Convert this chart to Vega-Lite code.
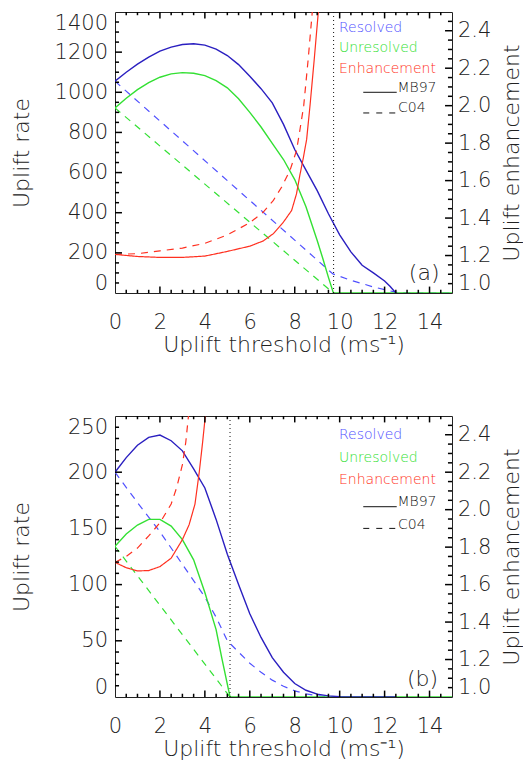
{
  "$schema": "https://vega.github.io/schema/vega-lite/v6.json",
  "description": "Uplift rate and enhancement versus uplift threshold, panels (a) and (b)",
  "padding": {"left": 10, "top": 10, "right": 0, "bottom": 0},
  "spacing": 58,
  "datasets": {
    "rate": [
      {"p": "a", "s": "Unresolved", "m": "MB97", "x": 0, "y": 922}, {"p": "a", "s": "Unresolved", "m": "MB97", "x": 0.5, "y": 970},
      {"p": "a", "s": "Unresolved", "m": "MB97", "x": 1, "y": 1013}, {"p": "a", "s": "Unresolved", "m": "MB97", "x": 1.5, "y": 1048},
      {"p": "a", "s": "Unresolved", "m": "MB97", "x": 2, "y": 1075}, {"p": "a", "s": "Unresolved", "m": "MB97", "x": 2.5, "y": 1092},
      {"p": "a", "s": "Unresolved", "m": "MB97", "x": 3, "y": 1098}, {"p": "a", "s": "Unresolved", "m": "MB97", "x": 3.5, "y": 1095},
      {"p": "a", "s": "Unresolved", "m": "MB97", "x": 4, "y": 1083}, {"p": "a", "s": "Unresolved", "m": "MB97", "x": 4.5, "y": 1058},
      {"p": "a", "s": "Unresolved", "m": "MB97", "x": 5, "y": 1022}, {"p": "a", "s": "Unresolved", "m": "MB97", "x": 5.5, "y": 968},
      {"p": "a", "s": "Unresolved", "m": "MB97", "x": 6, "y": 900}, {"p": "a", "s": "Unresolved", "m": "MB97", "x": 6.5, "y": 827},
      {"p": "a", "s": "Unresolved", "m": "MB97", "x": 7, "y": 745}, {"p": "a", "s": "Unresolved", "m": "MB97", "x": 7.5, "y": 665},
      {"p": "a", "s": "Unresolved", "m": "MB97", "x": 8, "y": 565}, {"p": "a", "s": "Unresolved", "m": "MB97", "x": 8.5, "y": 430},
      {"p": "a", "s": "Unresolved", "m": "MB97", "x": 9, "y": 262}, {"p": "a", "s": "Unresolved", "m": "MB97", "x": 9.25, "y": 172},
      {"p": "a", "s": "Unresolved", "m": "MB97", "x": 9.5, "y": 78}, {"p": "a", "s": "Unresolved", "m": "MB97", "x": 9.72, "y": 0},
      {"p": "a", "s": "Unresolved", "m": "MB97", "x": 15, "y": 0},
      {"p": "a", "s": "Resolved", "m": "MB97", "x": 0, "y": 1055}, {"p": "a", "s": "Resolved", "m": "MB97", "x": 0.5, "y": 1100},
      {"p": "a", "s": "Resolved", "m": "MB97", "x": 1, "y": 1140}, {"p": "a", "s": "Resolved", "m": "MB97", "x": 1.5, "y": 1175},
      {"p": "a", "s": "Resolved", "m": "MB97", "x": 2, "y": 1205}, {"p": "a", "s": "Resolved", "m": "MB97", "x": 2.5, "y": 1225},
      {"p": "a", "s": "Resolved", "m": "MB97", "x": 3, "y": 1238}, {"p": "a", "s": "Resolved", "m": "MB97", "x": 3.5, "y": 1242},
      {"p": "a", "s": "Resolved", "m": "MB97", "x": 4, "y": 1235}, {"p": "a", "s": "Resolved", "m": "MB97", "x": 4.5, "y": 1215},
      {"p": "a", "s": "Resolved", "m": "MB97", "x": 5, "y": 1183}, {"p": "a", "s": "Resolved", "m": "MB97", "x": 5.5, "y": 1138},
      {"p": "a", "s": "Resolved", "m": "MB97", "x": 6, "y": 1080}, {"p": "a", "s": "Resolved", "m": "MB97", "x": 6.5, "y": 1018},
      {"p": "a", "s": "Resolved", "m": "MB97", "x": 7, "y": 947}, {"p": "a", "s": "Resolved", "m": "MB97", "x": 7.5, "y": 840},
      {"p": "a", "s": "Resolved", "m": "MB97", "x": 8, "y": 715}, {"p": "a", "s": "Resolved", "m": "MB97", "x": 8.5, "y": 612},
      {"p": "a", "s": "Resolved", "m": "MB97", "x": 9, "y": 510}, {"p": "a", "s": "Resolved", "m": "MB97", "x": 9.5, "y": 395},
      {"p": "a", "s": "Resolved", "m": "MB97", "x": 10, "y": 290}, {"p": "a", "s": "Resolved", "m": "MB97", "x": 10.5, "y": 205},
      {"p": "a", "s": "Resolved", "m": "MB97", "x": 11, "y": 138}, {"p": "a", "s": "Resolved", "m": "MB97", "x": 11.5, "y": 100},
      {"p": "a", "s": "Resolved", "m": "MB97", "x": 12, "y": 60}, {"p": "a", "s": "Resolved", "m": "MB97", "x": 12.25, "y": 32},
      {"p": "a", "s": "Resolved", "m": "MB97", "x": 12.5, "y": 0},
      {"p": "a", "s": "Unresolved", "m": "C04", "x": 0, "y": 922}, {"p": "a", "s": "Unresolved", "m": "C04", "x": 9.72, "y": 0},
      {"p": "a", "s": "Resolved", "m": "C04", "x": 0, "y": 1055}, {"p": "a", "s": "Resolved", "m": "C04", "x": 9.7, "y": 95},
      {"p": "a", "s": "Resolved", "m": "C04", "x": 10.5, "y": 63}, {"p": "a", "s": "Resolved", "m": "C04", "x": 11, "y": 47},
      {"p": "a", "s": "Resolved", "m": "C04", "x": 11.5, "y": 30}, {"p": "a", "s": "Resolved", "m": "C04", "x": 12, "y": 17},
      {"p": "a", "s": "Resolved", "m": "C04", "x": 12.5, "y": 4}, {"p": "a", "s": "Resolved", "m": "C04", "x": 13, "y": 0},
      {"p": "a", "s": "Resolved", "m": "C04", "x": 15, "y": 0},

      {"p": "b", "s": "Unresolved", "m": "MB97", "x": 0, "y": 134}, {"p": "b", "s": "Unresolved", "m": "MB97", "x": 0.5, "y": 145},
      {"p": "b", "s": "Unresolved", "m": "MB97", "x": 1, "y": 153}, {"p": "b", "s": "Unresolved", "m": "MB97", "x": 1.5, "y": 158},
      {"p": "b", "s": "Unresolved", "m": "MB97", "x": 2, "y": 158}, {"p": "b", "s": "Unresolved", "m": "MB97", "x": 2.5, "y": 152},
      {"p": "b", "s": "Unresolved", "m": "MB97", "x": 3, "y": 140}, {"p": "b", "s": "Unresolved", "m": "MB97", "x": 3.5, "y": 122},
      {"p": "b", "s": "Unresolved", "m": "MB97", "x": 4, "y": 93}, {"p": "b", "s": "Unresolved", "m": "MB97", "x": 4.5, "y": 60},
      {"p": "b", "s": "Unresolved", "m": "MB97", "x": 4.75, "y": 35}, {"p": "b", "s": "Unresolved", "m": "MB97", "x": 5.12, "y": 0},
      {"p": "b", "s": "Unresolved", "m": "MB97", "x": 15, "y": 0},
      {"p": "b", "s": "Resolved", "m": "MB97", "x": 0, "y": 200}, {"p": "b", "s": "Resolved", "m": "MB97", "x": 0.5, "y": 213},
      {"p": "b", "s": "Resolved", "m": "MB97", "x": 1, "y": 224}, {"p": "b", "s": "Resolved", "m": "MB97", "x": 1.5, "y": 231},
      {"p": "b", "s": "Resolved", "m": "MB97", "x": 2, "y": 233}, {"p": "b", "s": "Resolved", "m": "MB97", "x": 2.5, "y": 228},
      {"p": "b", "s": "Resolved", "m": "MB97", "x": 3, "y": 219}, {"p": "b", "s": "Resolved", "m": "MB97", "x": 3.5, "y": 203},
      {"p": "b", "s": "Resolved", "m": "MB97", "x": 4, "y": 186}, {"p": "b", "s": "Resolved", "m": "MB97", "x": 4.5, "y": 158},
      {"p": "b", "s": "Resolved", "m": "MB97", "x": 5, "y": 127}, {"p": "b", "s": "Resolved", "m": "MB97", "x": 5.5, "y": 100},
      {"p": "b", "s": "Resolved", "m": "MB97", "x": 6, "y": 74}, {"p": "b", "s": "Resolved", "m": "MB97", "x": 6.5, "y": 53},
      {"p": "b", "s": "Resolved", "m": "MB97", "x": 7, "y": 35}, {"p": "b", "s": "Resolved", "m": "MB97", "x": 7.5, "y": 22},
      {"p": "b", "s": "Resolved", "m": "MB97", "x": 8, "y": 12}, {"p": "b", "s": "Resolved", "m": "MB97", "x": 8.5, "y": 6},
      {"p": "b", "s": "Resolved", "m": "MB97", "x": 9, "y": 2.5}, {"p": "b", "s": "Resolved", "m": "MB97", "x": 9.5, "y": 1},
      {"p": "b", "s": "Resolved", "m": "MB97", "x": 10, "y": 0.3}, {"p": "b", "s": "Resolved", "m": "MB97", "x": 10.5, "y": 0},
      {"p": "b", "s": "Resolved", "m": "MB97", "x": 12.5, "y": 0},
      {"p": "b", "s": "Unresolved", "m": "C04", "x": 0, "y": 134}, {"p": "b", "s": "Unresolved", "m": "C04", "x": 5.12, "y": 0},
      {"p": "b", "s": "Resolved", "m": "C04", "x": 0, "y": 200}, {"p": "b", "s": "Resolved", "m": "C04", "x": 1, "y": 173},
      {"p": "b", "s": "Resolved", "m": "C04", "x": 2, "y": 147}, {"p": "b", "s": "Resolved", "m": "C04", "x": 3, "y": 118},
      {"p": "b", "s": "Resolved", "m": "C04", "x": 4, "y": 89}, {"p": "b", "s": "Resolved", "m": "C04", "x": 4.5, "y": 71},
      {"p": "b", "s": "Resolved", "m": "C04", "x": 5, "y": 50}, {"p": "b", "s": "Resolved", "m": "C04", "x": 5.5, "y": 40},
      {"p": "b", "s": "Resolved", "m": "C04", "x": 6, "y": 30}, {"p": "b", "s": "Resolved", "m": "C04", "x": 6.5, "y": 22},
      {"p": "b", "s": "Resolved", "m": "C04", "x": 7, "y": 15}, {"p": "b", "s": "Resolved", "m": "C04", "x": 7.5, "y": 9.5},
      {"p": "b", "s": "Resolved", "m": "C04", "x": 8, "y": 5.5}, {"p": "b", "s": "Resolved", "m": "C04", "x": 8.5, "y": 2.8},
      {"p": "b", "s": "Resolved", "m": "C04", "x": 9, "y": 1.2}, {"p": "b", "s": "Resolved", "m": "C04", "x": 9.5, "y": 0.3},
      {"p": "b", "s": "Resolved", "m": "C04", "x": 10, "y": 0}
    ],
    "enh": [
      {"p": "a", "m": "MB97", "x": 0, "e": 1.206}, {"p": "a", "m": "MB97", "x": 1, "e": 1.195}, {"p": "a", "m": "MB97", "x": 2, "e": 1.19},
      {"p": "a", "m": "MB97", "x": 3, "e": 1.19}, {"p": "a", "m": "MB97", "x": 4, "e": 1.197}, {"p": "a", "m": "MB97", "x": 5, "e": 1.222},
      {"p": "a", "m": "MB97", "x": 6, "e": 1.25}, {"p": "a", "m": "MB97", "x": 6.6, "e": 1.278}, {"p": "a", "m": "MB97", "x": 7.05, "e": 1.317},
      {"p": "a", "m": "MB97", "x": 7.5, "e": 1.379}, {"p": "a", "m": "MB97", "x": 7.86, "e": 1.44}, {"p": "a", "m": "MB97", "x": 8.08, "e": 1.53},
      {"p": "a", "m": "MB97", "x": 8.23, "e": 1.63}, {"p": "a", "m": "MB97", "x": 8.38, "e": 1.72}, {"p": "a", "m": "MB97", "x": 8.53, "e": 1.82},
      {"p": "a", "m": "MB97", "x": 8.68, "e": 2.0}, {"p": "a", "m": "MB97", "x": 8.87, "e": 2.25}, {"p": "a", "m": "MB97", "x": 9.05, "e": 2.5},
      {"p": "a", "m": "C04", "x": 0, "e": 1.206}, {"p": "a", "m": "C04", "x": 1, "e": 1.21}, {"p": "a", "m": "C04", "x": 2, "e": 1.225},
      {"p": "a", "m": "C04", "x": 3, "e": 1.24}, {"p": "a", "m": "C04", "x": 4, "e": 1.265}, {"p": "a", "m": "C04", "x": 5, "e": 1.31},
      {"p": "a", "m": "C04", "x": 6, "e": 1.375}, {"p": "a", "m": "C04", "x": 6.6, "e": 1.432}, {"p": "a", "m": "C04", "x": 7.05, "e": 1.495},
      {"p": "a", "m": "C04", "x": 7.42, "e": 1.566}, {"p": "a", "m": "C04", "x": 7.79, "e": 1.655}, {"p": "a", "m": "C04", "x": 8.08, "e": 1.76},
      {"p": "a", "m": "C04", "x": 8.23, "e": 1.87}, {"p": "a", "m": "C04", "x": 8.4, "e": 2.0}, {"p": "a", "m": "C04", "x": 8.6, "e": 2.25},
      {"p": "a", "m": "C04", "x": 8.78, "e": 2.5},
      {"p": "b", "m": "MB97", "x": 0, "e": 1.719}, {"p": "b", "m": "MB97", "x": 0.5, "e": 1.69}, {"p": "b", "m": "MB97", "x": 1, "e": 1.673},
      {"p": "b", "m": "MB97", "x": 1.5, "e": 1.675}, {"p": "b", "m": "MB97", "x": 2, "e": 1.696}, {"p": "b", "m": "MB97", "x": 2.5, "e": 1.741},
      {"p": "b", "m": "MB97", "x": 3, "e": 1.84}, {"p": "b", "m": "MB97", "x": 3.3, "e": 1.92}, {"p": "b", "m": "MB97", "x": 3.56, "e": 2.03},
      {"p": "b", "m": "MB97", "x": 3.75, "e": 2.2}, {"p": "b", "m": "MB97", "x": 3.9, "e": 2.36}, {"p": "b", "m": "MB97", "x": 4.02, "e": 2.5},
      {"p": "b", "m": "C04", "x": 0, "e": 1.719}, {"p": "b", "m": "C04", "x": 0.5, "e": 1.75}, {"p": "b", "m": "C04", "x": 1, "e": 1.795},
      {"p": "b", "m": "C04", "x": 1.5, "e": 1.86}, {"p": "b", "m": "C04", "x": 2, "e": 1.93}, {"p": "b", "m": "C04", "x": 2.5, "e": 2.03},
      {"p": "b", "m": "C04", "x": 2.75, "e": 2.12}, {"p": "b", "m": "C04", "x": 3, "e": 2.24}, {"p": "b", "m": "C04", "x": 3.15, "e": 2.36},
      {"p": "b", "m": "C04", "x": 3.27, "e": 2.5}
    ],
    "xt": [
      {"v": 2, "k": "major"}, {"v": 4, "k": "major"}, {"v": 6, "k": "major"}, {"v": 8, "k": "major"}, {"v": 10, "k": "major"}, {"v": 12, "k": "major"}, {"v": 14, "k": "major"},
      {"v": 0.5, "k": "minor"}, {"v": 1, "k": "minor"}, {"v": 1.5, "k": "minor"}, {"v": 2.5, "k": "minor"}, {"v": 3, "k": "minor"}, {"v": 3.5, "k": "minor"},
      {"v": 4.5, "k": "minor"}, {"v": 5, "k": "minor"}, {"v": 5.5, "k": "minor"}, {"v": 6.5, "k": "minor"}, {"v": 7, "k": "minor"}, {"v": 7.5, "k": "minor"},
      {"v": 8.5, "k": "minor"}, {"v": 9, "k": "minor"}, {"v": 9.5, "k": "minor"}, {"v": 10.5, "k": "minor"}, {"v": 11, "k": "minor"}, {"v": 11.5, "k": "minor"},
      {"v": 12.5, "k": "minor"}, {"v": 13, "k": "minor"}, {"v": 13.5, "k": "minor"}, {"v": 14.5, "k": "minor"}
    ],
    "yta": [
      {"v": 200, "k": "major"}, {"v": 400, "k": "major"}, {"v": 600, "k": "major"}, {"v": 800, "k": "major"}, {"v": 1000, "k": "major"}, {"v": 1200, "k": "major"},
      {"v": 50, "k": "minor"}, {"v": 100, "k": "minor"}, {"v": 150, "k": "minor"}, {"v": 250, "k": "minor"}, {"v": 300, "k": "minor"}, {"v": 350, "k": "minor"},
      {"v": 450, "k": "minor"}, {"v": 500, "k": "minor"}, {"v": 550, "k": "minor"}, {"v": 650, "k": "minor"}, {"v": 700, "k": "minor"}, {"v": 750, "k": "minor"},
      {"v": 850, "k": "minor"}, {"v": 900, "k": "minor"}, {"v": 950, "k": "minor"}, {"v": 1050, "k": "minor"}, {"v": 1100, "k": "minor"}, {"v": 1150, "k": "minor"},
      {"v": 1250, "k": "minor"}, {"v": 1300, "k": "minor"}, {"v": 1350, "k": "minor"}
    ],
    "ytb": [
      {"v": 50, "k": "major"}, {"v": 100, "k": "major"}, {"v": 150, "k": "major"}, {"v": 200, "k": "major"},
      {"v": 10, "k": "minor"}, {"v": 20, "k": "minor"}, {"v": 30, "k": "minor"}, {"v": 40, "k": "minor"},
      {"v": 60, "k": "minor"}, {"v": 70, "k": "minor"}, {"v": 80, "k": "minor"}, {"v": 90, "k": "minor"},
      {"v": 110, "k": "minor"}, {"v": 120, "k": "minor"}, {"v": 130, "k": "minor"}, {"v": 140, "k": "minor"},
      {"v": 160, "k": "minor"}, {"v": 170, "k": "minor"}, {"v": 180, "k": "minor"}, {"v": 190, "k": "minor"},
      {"v": 210, "k": "minor"}, {"v": 220, "k": "minor"}, {"v": 230, "k": "minor"}, {"v": 240, "k": "minor"}
    ],
    "et": [
      {"v": 1.2, "k": "major"}, {"v": 1.4, "k": "major"}, {"v": 1.6, "k": "major"}, {"v": 1.8, "k": "major"}, {"v": 2.0, "k": "major"}, {"v": 2.2, "k": "major"}, {"v": 2.4, "k": "major"},
      {"v": 1.05, "k": "minor"}, {"v": 1.1, "k": "minor"}, {"v": 1.15, "k": "minor"}, {"v": 1.25, "k": "minor"}, {"v": 1.3, "k": "minor"}, {"v": 1.35, "k": "minor"},
      {"v": 1.45, "k": "minor"}, {"v": 1.5, "k": "minor"}, {"v": 1.55, "k": "minor"}, {"v": 1.65, "k": "minor"}, {"v": 1.7, "k": "minor"}, {"v": 1.75, "k": "minor"},
      {"v": 1.85, "k": "minor"}, {"v": 1.9, "k": "minor"}, {"v": 1.95, "k": "minor"}, {"v": 2.05, "k": "minor"}, {"v": 2.1, "k": "minor"}, {"v": 2.15, "k": "minor"},
      {"v": 2.25, "k": "minor"}, {"v": 2.3, "k": "minor"}, {"v": 2.35, "k": "minor"}, {"v": 2.45, "k": "minor"}
    ],
    "one": [{}]
  },
  "vconcat": [
    {
      "width": 337,
      "height": 281,
      "resolve": {"scale": {"y": "independent", "color": "independent"}},
      "layer": [
        {
          "data": {"name": "rate"},
          "transform": [{"filter": "datum.p === 'a' && datum.m === 'C04'"}],
          "mark": {"type": "line", "strokeDash": [7, 6], "strokeWidth": 1.2, "clip": true},
          "encoding": {
            "x": {"field": "x", "type": "quantitative", "scale": {"domain": [0, 15], "nice": false},
              "axis": {"orient": "bottom", "values": [0, 2, 4, 6, 8, 10, 12, 14], "format": "d", "labelPadding": 18, "labelFlush": false,
                "title": "Uplift threshold (ms⁻¹)", "titleX": 168.5, "titleY": 58, "titleBaseline": "alphabetic"}},
            "y": {"field": "y", "type": "quantitative", "scale": {"domain": [0, 1400], "nice": false},
              "axis": {"orient": "left", "values": [0, 200, 400, 600, 800, 1000, 1200, 1400], "format": "d", "labelPadding": 7.5, "labelFlush": true,
                "title": "Uplift rate", "titleX": -86.4, "titleY": 140.5, "titleAngle": 270, "titleBaseline": "alphabetic", "titleAlign": "center"}},
            "color": {"field": "s", "type": "nominal", "scale": {"domain": ["Unresolved", "Resolved"], "range": ["#33e033", "#5050ff"]}, "legend": null}
          }
        },
        {
          "data": {"name": "rate"},
          "transform": [{"filter": "datum.p === 'a' && datum.m === 'MB97'"}],
          "mark": {"type": "line", "strokeWidth": 1.4, "clip": true},
          "encoding": {
            "x": {"field": "x", "type": "quantitative", "scale": {"domain": [0, 15], "nice": false}},
            "y": {"field": "y", "type": "quantitative", "scale": {"domain": [0, 1400], "nice": false}, "axis": null},
            "color": {"field": "s", "type": "nominal", "scale": {"domain": ["Unresolved", "Resolved"], "range": ["#33e033", "#2a1fc0"]}, "legend": null}
          }
        },
        {
          "data": {"name": "enh"},
          "transform": [{"filter": "datum.p === 'a'"}],
          "mark": {"type": "line", "color": "#ff3020", "strokeWidth": 1.2, "clip": true},
          "encoding": {
            "x": {"field": "x", "type": "quantitative", "scale": {"domain": [0, 15], "nice": false}},
            "y": {"field": "e", "type": "quantitative", "scale": {"domain": [1, 2.5], "nice": false, "zero": false},
              "axis": {"orient": "right", "values": [1, 1.2, 1.4, 1.6, 1.8, 2, 2.2, 2.4], "format": ".1f", "labelPadding": 5.5, "labelFlush": true,
                "title": "Uplift enhancement", "titleX": 66, "titleY": 140.5, "titleAngle": 270, "titleBaseline": "alphabetic", "titleAlign": "center"}},
            "strokeDash": {"field": "m", "type": "nominal", "scale": {"domain": ["MB97", "C04"], "range": [[1, 0], [7, 6]]}, "legend": null}
          }
        },
        {
          "data": {"name": "xt"}, "transform": [{"filter": "datum.k === 'major'"}],
          "mark": {"type": "rule", "color": "#000", "strokeWidth": 1.5},
          "encoding": {
            "x": {"field": "v", "type": "quantitative", "scale": {"domain": [0, 15], "nice": false}},
            "y": {"datum": 0, "type": "quantitative", "scale": {"domain": [0, 1400], "nice": false}, "axis": null},
            "y2": {"datum": 32}
          }
        },
        {
          "data": {"name": "xt"}, "transform": [{"filter": "datum.k === 'minor'"}],
          "mark": {"type": "rule", "color": "#000", "strokeWidth": 1.5},
          "encoding": {
            "x": {"field": "v", "type": "quantitative", "scale": {"domain": [0, 15], "nice": false}},
            "y": {"datum": 0, "type": "quantitative", "scale": {"domain": [0, 1400], "nice": false}, "axis": null},
            "y2": {"datum": 16}
          }
        },
        {
          "data": {"name": "xt"}, "transform": [{"filter": "datum.k === 'major'"}],
          "mark": {"type": "rule", "color": "#000", "strokeWidth": 1.5},
          "encoding": {
            "x": {"field": "v", "type": "quantitative", "scale": {"domain": [0, 15], "nice": false}},
            "y": {"datum": 1400, "type": "quantitative", "scale": {"domain": [0, 1400], "nice": false}, "axis": null},
            "y2": {"datum": 1368}
          }
        },
        {
          "data": {"name": "xt"}, "transform": [{"filter": "datum.k === 'minor'"}],
          "mark": {"type": "rule", "color": "#000", "strokeWidth": 1.5},
          "encoding": {
            "x": {"field": "v", "type": "quantitative", "scale": {"domain": [0, 15], "nice": false}},
            "y": {"datum": 1400, "type": "quantitative", "scale": {"domain": [0, 1400], "nice": false}, "axis": null},
            "y2": {"datum": 1384}
          }
        },
        {
          "data": {"name": "yta"}, "transform": [{"filter": "datum.k === 'major'"}],
          "mark": {"type": "rule", "color": "#000", "strokeWidth": 1.5},
          "encoding": {
            "x": {"datum": 0, "type": "quantitative", "scale": {"domain": [0, 15], "nice": false}},
            "x2": {"datum": 0.31},
            "y": {"field": "v", "type": "quantitative", "scale": {"domain": [0, 1400], "nice": false}, "axis": null}
          }
        },
        {
          "data": {"name": "yta"}, "transform": [{"filter": "datum.k === 'minor'"}],
          "mark": {"type": "rule", "color": "#000", "strokeWidth": 1.5},
          "encoding": {
            "x": {"datum": 0, "type": "quantitative", "scale": {"domain": [0, 15], "nice": false}},
            "x2": {"datum": 0.18},
            "y": {"field": "v", "type": "quantitative", "scale": {"domain": [0, 1400], "nice": false}, "axis": null}
          }
        },
        {
          "data": {"name": "et"}, "transform": [{"filter": "datum.k === 'major'"}],
          "mark": {"type": "rule", "color": "#000", "strokeWidth": 1.5},
          "encoding": {
            "x": {"datum": 15, "type": "quantitative", "scale": {"domain": [0, 15], "nice": false}},
            "x2": {"datum": 14.69},
            "y": {"field": "v", "type": "quantitative", "scale": {"domain": [1, 2.5], "nice": false, "zero": false}, "axis": null}
          }
        },
        {
          "data": {"name": "et"}, "transform": [{"filter": "datum.k === 'minor'"}],
          "mark": {"type": "rule", "color": "#000", "strokeWidth": 1.5},
          "encoding": {
            "x": {"datum": 15, "type": "quantitative", "scale": {"domain": [0, 15], "nice": false}},
            "x2": {"datum": 14.82},
            "y": {"field": "v", "type": "quantitative", "scale": {"domain": [1, 2.5], "nice": false, "zero": false}, "axis": null}
          }
        },
        {
          "data": {"name": "one"},
          "mark": {"type": "rule", "color": "#111", "strokeDash": [1, 3], "strokeWidth": 1},
          "encoding": {
            "x": {"datum": 9.73, "type": "quantitative", "scale": {"domain": [0, 15], "nice": false}}
          }
        },
        {
          "data": {"name": "one"},
          "mark": {"type": "text", "align": "left", "baseline": "middle", "fontSize": 14, "color": "#5050ff"},
          "encoding": {
            "x": {"datum": 9.97, "type": "quantitative", "scale": {"domain": [0, 15], "nice": false}},
            "y": {"datum": 1321, "type": "quantitative", "scale": {"domain": [0, 1400], "nice": false}, "axis": null},
            "text": {"value": "Resolved"}
          }
        },
        {
          "data": {"name": "one"},
          "mark": {"type": "text", "align": "left", "baseline": "middle", "fontSize": 14, "color": "#33e033"},
          "encoding": {
            "x": {"datum": 9.97, "type": "quantitative", "scale": {"domain": [0, 15], "nice": false}},
            "y": {"datum": 1221, "type": "quantitative", "scale": {"domain": [0, 1400], "nice": false}, "axis": null},
            "text": {"value": "Unresolved"}
          }
        },
        {
          "data": {"name": "one"},
          "mark": {"type": "text", "align": "left", "baseline": "middle", "fontSize": 14, "color": "#ff3020"},
          "encoding": {
            "x": {"datum": 9.97, "type": "quantitative", "scale": {"domain": [0, 15], "nice": false}},
            "y": {"datum": 1118, "type": "quantitative", "scale": {"domain": [0, 1400], "nice": false}, "axis": null},
            "text": {"value": "Enhancement"}
          }
        },
        {
          "data": {"name": "one"},
          "mark": {"type": "rule", "color": "#111", "strokeWidth": 1},
          "encoding": {
            "x": {"datum": 11.05, "type": "quantitative", "scale": {"domain": [0, 15], "nice": false}},
            "x2": {"datum": 12.54},
            "y": {"datum": 1000, "type": "quantitative", "scale": {"domain": [0, 1400], "nice": false}, "axis": null}
          }
        },
        {
          "data": {"name": "one"},
          "mark": {"type": "rule", "color": "#111", "strokeWidth": 1, "strokeDash": [6, 7]},
          "encoding": {
            "x": {"datum": 11.05, "type": "quantitative", "scale": {"domain": [0, 15], "nice": false}},
            "x2": {"datum": 12.54},
            "y": {"datum": 897, "type": "quantitative", "scale": {"domain": [0, 1400], "nice": false}, "axis": null}
          }
        },
        {
          "data": {"name": "one"},
          "mark": {"type": "text", "align": "left", "baseline": "middle", "fontSize": 14, "color": "#111"},
          "encoding": {
            "x": {"datum": 12.57, "type": "quantitative", "scale": {"domain": [0, 15], "nice": false}},
            "y": {"datum": 1020, "type": "quantitative", "scale": {"domain": [0, 1400], "nice": false}, "axis": null},
            "text": {"value": "MB97"}
          }
        },
        {
          "data": {"name": "one"},
          "mark": {"type": "text", "align": "left", "baseline": "middle", "fontSize": 14, "color": "#111"},
          "encoding": {
            "x": {"datum": 12.6, "type": "quantitative", "scale": {"domain": [0, 15], "nice": false}},
            "y": {"datum": 922, "type": "quantitative", "scale": {"domain": [0, 1400], "nice": false}, "axis": null},
            "text": {"value": "C04"}
          }
        },
        {
          "data": {"name": "one"},
          "mark": {"type": "text", "align": "center", "baseline": "middle", "fontSize": 22, "color": "#222"},
          "encoding": {
            "x": {"datum": 13.76, "type": "quantitative", "scale": {"domain": [0, 15], "nice": false}},
            "y": {"datum": 1.108, "type": "quantitative", "scale": {"domain": [1, 2.5], "nice": false, "zero": false}, "axis": null},
            "text": {"value": "(a)"}
          }
        }
      ]
    },
    {
      "width": 337,
      "height": 281,
      "resolve": {"scale": {"y": "independent", "color": "independent"}},
      "layer": [
        {
          "data": {"name": "rate"},
          "transform": [{"filter": "datum.p === 'b' && datum.m === 'C04'"}],
          "mark": {"type": "line", "strokeDash": [7, 6], "strokeWidth": 1.2, "clip": true},
          "encoding": {
            "x": {"field": "x", "type": "quantitative", "scale": {"domain": [0, 15], "nice": false},
              "axis": {"orient": "bottom", "values": [0, 2, 4, 6, 8, 10, 12, 14], "format": "d", "labelPadding": 18, "labelFlush": false,
                "title": "Uplift threshold (ms⁻¹)", "titleX": 168.5, "titleY": 58, "titleBaseline": "alphabetic"}},
            "y": {"field": "y", "type": "quantitative", "scale": {"domain": [0, 250], "nice": false},
              "axis": {"orient": "left", "values": [0, 50, 100, 150, 200, 250], "format": "d", "labelPadding": 7.5, "labelFlush": true,
                "title": "Uplift rate", "titleX": -86.4, "titleY": 140.5, "titleAngle": 270, "titleBaseline": "alphabetic", "titleAlign": "center"}},
            "color": {"field": "s", "type": "nominal", "scale": {"domain": ["Unresolved", "Resolved"], "range": ["#33e033", "#5050ff"]}, "legend": null}
          }
        },
        {
          "data": {"name": "rate"},
          "transform": [{"filter": "datum.p === 'b' && datum.m === 'MB97'"}],
          "mark": {"type": "line", "strokeWidth": 1.4, "clip": true},
          "encoding": {
            "x": {"field": "x", "type": "quantitative", "scale": {"domain": [0, 15], "nice": false}},
            "y": {"field": "y", "type": "quantitative", "scale": {"domain": [0, 250], "nice": false}, "axis": null},
            "color": {"field": "s", "type": "nominal", "scale": {"domain": ["Unresolved", "Resolved"], "range": ["#33e033", "#2a1fc0"]}, "legend": null}
          }
        },
        {
          "data": {"name": "enh"},
          "transform": [{"filter": "datum.p === 'b'"}],
          "mark": {"type": "line", "color": "#ff3020", "strokeWidth": 1.2, "clip": true},
          "encoding": {
            "x": {"field": "x", "type": "quantitative", "scale": {"domain": [0, 15], "nice": false}},
            "y": {"field": "e", "type": "quantitative", "scale": {"domain": [1, 2.5], "nice": false, "zero": false},
              "axis": {"orient": "right", "values": [1, 1.2, 1.4, 1.6, 1.8, 2, 2.2, 2.4], "format": ".1f", "labelPadding": 5.5, "labelFlush": true,
                "title": "Uplift enhancement", "titleX": 66, "titleY": 140.5, "titleAngle": 270, "titleBaseline": "alphabetic", "titleAlign": "center"}},
            "strokeDash": {"field": "m", "type": "nominal", "scale": {"domain": ["MB97", "C04"], "range": [[1, 0], [7, 6]]}, "legend": null}
          }
        },
        {
          "data": {"name": "xt"}, "transform": [{"filter": "datum.k === 'major'"}],
          "mark": {"type": "rule", "color": "#000", "strokeWidth": 1.5},
          "encoding": {
            "x": {"field": "v", "type": "quantitative", "scale": {"domain": [0, 15], "nice": false}},
            "y": {"datum": 0, "type": "quantitative", "scale": {"domain": [0, 250], "nice": false}, "axis": null},
            "y2": {"datum": 5.7}
          }
        },
        {
          "data": {"name": "xt"}, "transform": [{"filter": "datum.k === 'minor'"}],
          "mark": {"type": "rule", "color": "#000", "strokeWidth": 1.5},
          "encoding": {
            "x": {"field": "v", "type": "quantitative", "scale": {"domain": [0, 15], "nice": false}},
            "y": {"datum": 0, "type": "quantitative", "scale": {"domain": [0, 250], "nice": false}, "axis": null},
            "y2": {"datum": 2.9}
          }
        },
        {
          "data": {"name": "xt"}, "transform": [{"filter": "datum.k === 'major'"}],
          "mark": {"type": "rule", "color": "#000", "strokeWidth": 1.5},
          "encoding": {
            "x": {"field": "v", "type": "quantitative", "scale": {"domain": [0, 15], "nice": false}},
            "y": {"datum": 250, "type": "quantitative", "scale": {"domain": [0, 250], "nice": false}, "axis": null},
            "y2": {"datum": 244.3}
          }
        },
        {
          "data": {"name": "xt"}, "transform": [{"filter": "datum.k === 'minor'"}],
          "mark": {"type": "rule", "color": "#000", "strokeWidth": 1.5},
          "encoding": {
            "x": {"field": "v", "type": "quantitative", "scale": {"domain": [0, 15], "nice": false}},
            "y": {"datum": 250, "type": "quantitative", "scale": {"domain": [0, 250], "nice": false}, "axis": null},
            "y2": {"datum": 247.1}
          }
        },
        {
          "data": {"name": "ytb"}, "transform": [{"filter": "datum.k === 'major'"}],
          "mark": {"type": "rule", "color": "#000", "strokeWidth": 1.5},
          "encoding": {
            "x": {"datum": 0, "type": "quantitative", "scale": {"domain": [0, 15], "nice": false}},
            "x2": {"datum": 0.31},
            "y": {"field": "v", "type": "quantitative", "scale": {"domain": [0, 250], "nice": false}, "axis": null}
          }
        },
        {
          "data": {"name": "ytb"}, "transform": [{"filter": "datum.k === 'minor'"}],
          "mark": {"type": "rule", "color": "#000", "strokeWidth": 1.5},
          "encoding": {
            "x": {"datum": 0, "type": "quantitative", "scale": {"domain": [0, 15], "nice": false}},
            "x2": {"datum": 0.18},
            "y": {"field": "v", "type": "quantitative", "scale": {"domain": [0, 250], "nice": false}, "axis": null}
          }
        },
        {
          "data": {"name": "et"}, "transform": [{"filter": "datum.k === 'major'"}],
          "mark": {"type": "rule", "color": "#000", "strokeWidth": 1.5},
          "encoding": {
            "x": {"datum": 15, "type": "quantitative", "scale": {"domain": [0, 15], "nice": false}},
            "x2": {"datum": 14.69},
            "y": {"field": "v", "type": "quantitative", "scale": {"domain": [1, 2.5], "nice": false, "zero": false}, "axis": null}
          }
        },
        {
          "data": {"name": "et"}, "transform": [{"filter": "datum.k === 'minor'"}],
          "mark": {"type": "rule", "color": "#000", "strokeWidth": 1.5},
          "encoding": {
            "x": {"datum": 15, "type": "quantitative", "scale": {"domain": [0, 15], "nice": false}},
            "x2": {"datum": 14.82},
            "y": {"field": "v", "type": "quantitative", "scale": {"domain": [1, 2.5], "nice": false, "zero": false}, "axis": null}
          }
        },
        {
          "data": {"name": "one"},
          "mark": {"type": "rule", "color": "#111", "strokeDash": [1, 3], "strokeWidth": 1},
          "encoding": {
            "x": {"datum": 5.12, "type": "quantitative", "scale": {"domain": [0, 15], "nice": false}}
          }
        },
        {
          "data": {"name": "one"},
          "mark": {"type": "text", "align": "left", "baseline": "middle", "fontSize": 14, "color": "#5050ff"},
          "encoding": {
            "x": {"datum": 9.97, "type": "quantitative", "scale": {"domain": [0, 15], "nice": false}},
            "y": {"datum": 232.8, "type": "quantitative", "scale": {"domain": [0, 250], "nice": false}, "axis": null},
            "text": {"value": "Resolved"}
          }
        },
        {
          "data": {"name": "one"},
          "mark": {"type": "text", "align": "left", "baseline": "middle", "fontSize": 14, "color": "#33e033"},
          "encoding": {
            "x": {"datum": 9.97, "type": "quantitative", "scale": {"domain": [0, 15], "nice": false}},
            "y": {"datum": 212.9, "type": "quantitative", "scale": {"domain": [0, 250], "nice": false}, "axis": null},
            "text": {"value": "Unresolved"}
          }
        },
        {
          "data": {"name": "one"},
          "mark": {"type": "text", "align": "left", "baseline": "middle", "fontSize": 14, "color": "#ff3020"},
          "encoding": {
            "x": {"datum": 9.97, "type": "quantitative", "scale": {"domain": [0, 15], "nice": false}},
            "y": {"datum": 192.8, "type": "quantitative", "scale": {"domain": [0, 250], "nice": false}, "axis": null},
            "text": {"value": "Enhancement"}
          }
        },
        {
          "data": {"name": "one"},
          "mark": {"type": "rule", "color": "#111", "strokeWidth": 1},
          "encoding": {
            "x": {"datum": 11.05, "type": "quantitative", "scale": {"domain": [0, 15], "nice": false}},
            "x2": {"datum": 12.54},
            "y": {"datum": 169.3, "type": "quantitative", "scale": {"domain": [0, 250], "nice": false}, "axis": null}
          }
        },
        {
          "data": {"name": "one"},
          "mark": {"type": "rule", "color": "#111", "strokeWidth": 1, "strokeDash": [6, 7]},
          "encoding": {
            "x": {"datum": 11.05, "type": "quantitative", "scale": {"domain": [0, 15], "nice": false}},
            "x2": {"datum": 12.54},
            "y": {"datum": 150, "type": "quantitative", "scale": {"domain": [0, 250], "nice": false}, "axis": null}
          }
        },
        {
          "data": {"name": "one"},
          "mark": {"type": "text", "align": "left", "baseline": "middle", "fontSize": 14, "color": "#111"},
          "encoding": {
            "x": {"datum": 12.57, "type": "quantitative", "scale": {"domain": [0, 15], "nice": false}},
            "y": {"datum": 173.5, "type": "quantitative", "scale": {"domain": [0, 250], "nice": false}, "axis": null},
            "text": {"value": "MB97"}
          }
        },
        {
          "data": {"name": "one"},
          "mark": {"type": "text", "align": "left", "baseline": "middle", "fontSize": 14, "color": "#111"},
          "encoding": {
            "x": {"datum": 12.6, "type": "quantitative", "scale": {"domain": [0, 15], "nice": false}},
            "y": {"datum": 152.8, "type": "quantitative", "scale": {"domain": [0, 250], "nice": false}, "axis": null},
            "text": {"value": "C04"}
          }
        },
        {
          "data": {"name": "one"},
          "mark": {"type": "text", "align": "center", "baseline": "middle", "fontSize": 22, "color": "#222"},
          "encoding": {
            "x": {"datum": 13.69, "type": "quantitative", "scale": {"domain": [0, 15], "nice": false}},
            "y": {"datum": 1.094, "type": "quantitative", "scale": {"domain": [1, 2.5], "nice": false, "zero": false}, "axis": null},
            "text": {"value": "(b)"}
          }
        }
      ]
    }
  ],
  "config": {
    "view": {"stroke": "#222", "strokeWidth": 1},
    "font": "DejaVu Sans",
    "text": {"font": "DejaVu Sans", "fontWeight": 200},
    "axis": {
      "grid": false, "domain": false, "ticks": false, "labelOverlap": false,
      "labelFont": "DejaVu Sans", "labelFontSize": 21, "labelFontWeight": 200, "labelColor": "#222",
      "titleFont": "DejaVu Sans", "titleFontSize": 22, "titleFontWeight": 200, "titleColor": "#222"
    }
  }
}
